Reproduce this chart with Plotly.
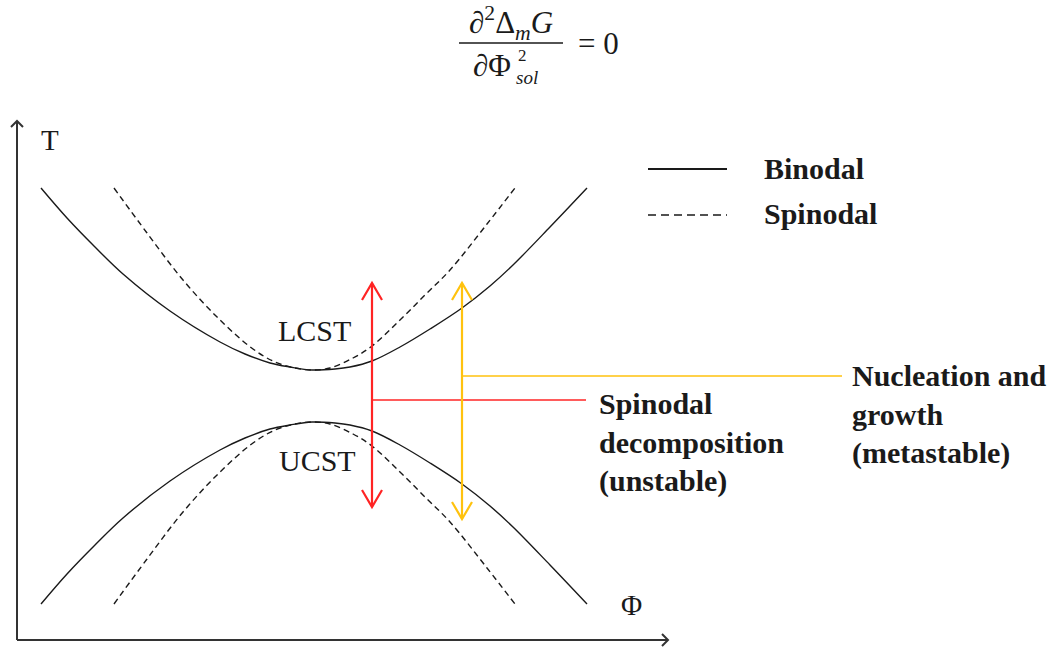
import plotly.graph_objects as go

W, H = 1053, 647

# ---- curve data (diagram coordinates) ----
binodal_x = [41, 67, 95, 123, 170, 220, 245, 270, 290, 312, 335, 350, 372, 400, 430, 462, 490, 513, 550, 587]
binodal_lcst_T = [188, 218, 247, 274, 311, 342, 354, 363, 367, 370, 369, 367, 361, 347, 329, 308, 286, 265, 227, 188]
binodal_ucst_T = [604, 574, 545, 518, 481, 450, 438, 429, 425, 422, 423, 425, 431, 445, 463, 484, 506, 527, 565, 604]

spinodal_x = [114, 147, 183, 220, 253, 275, 295, 312, 330, 353, 372, 400, 425, 450, 487, 515]
spinodal_lcst_T = [188, 233, 280, 320, 349, 362, 368, 370, 368, 358, 346, 320, 295, 270, 224, 188]
spinodal_ucst_T = [604, 559, 512, 472, 443, 430, 424, 422, 424, 434, 446, 472, 497, 522, 568, 604]

# axes of the diagram
axis_origin = (17, 640)
axis_y_top = 121
axis_x_end = 668

# arrows: x position, top, bottom, branch height, branch end
red_arrow = dict(x=372, top=283, bottom=507, branch_y=400, branch_end=586)
yellow_arrow = dict(x=462, top=283, bottom=519, branch_y=376, branch_end=842)

# legend samples
legend_x = [648, 727]
legend_binodal_y = 169
legend_spinodal_y = 215

labels_spinodal = ["Spinodal", "decomposition", "(unstable)"]
labels_nucleation = ["Nucleation and", "growth", "(metastable)"]

BLACK = "#1a1a1a"
RED = "#ff2424"
GOLD = "#ffc20e"
SERIF = "Liberation Serif"

fig = go.Figure()

def line(xs, ys, color, width, dash="solid", shape="linear"):
    fig.add_trace(go.Scatter(x=xs, y=ys, mode="lines", hoverinfo="skip",
                             line=dict(color=color, width=width, dash=dash, shape=shape, smoothing=1.0)))

# curves
line(binodal_x, binodal_lcst_T, BLACK, 1.4, shape="spline")
line(binodal_x, binodal_ucst_T, BLACK, 1.4, shape="spline")
line(spinodal_x, spinodal_lcst_T, BLACK, 1.4, dash="6px,4px", shape="spline")
line(spinodal_x, spinodal_ucst_T, BLACK, 1.4, dash="6px,4px", shape="spline")

# axes with arrowheads
ox, oy = axis_origin
line([ox, ox], [oy, axis_y_top], "#333333", 2)
line([ox - 6, ox, ox + 6], [axis_y_top + 6, axis_y_top, axis_y_top + 6], "#333333", 2)
line([ox, axis_x_end], [oy, oy], "#333333", 2)
line([axis_x_end - 6, axis_x_end, axis_x_end - 6], [oy - 6, oy, oy + 6], "#333333", 2)

# double arrows
for arr, col in ((red_arrow, RED), (yellow_arrow, GOLD)):
    x = arr["x"]
    line([x, x], [arr["top"], arr["bottom"]], col, 2.2)
    line([x - 10, x, x + 10], [arr["top"] + 17, arr["top"], arr["top"] + 17], col, 2.2)
    line([x - 10, x, x + 10], [arr["bottom"] - 17, arr["bottom"], arr["bottom"] - 17], col, 2.2)
    line([x, arr["branch_end"]], [arr["branch_y"], arr["branch_y"]], col, 1.4)

# legend samples
line(legend_x, [legend_binodal_y] * 2, BLACK, 1.8)
line(legend_x, [legend_spinodal_y] * 2, BLACK, 1.6, dash="8px,5px")

ann = []
def text(x, y, s, size=30, bold=False, xanchor="center", color=BLACK, family=SERIF):
    if bold:
        s = "<b>" + s + "</b>"
    ann.append(dict(x=x, y=y, xref="x", yref="y", text=s, showarrow=False,
                    xanchor=xanchor, yanchor="middle",
                    font=dict(family=family, size=size, color=color)))

text(50, 140, "T", 29)
text(631, 605, "Φ", 29)
text(314, 330, "LCST", 30)
text(317, 460, "UCST", 30)
text(762, 168, "Binodal", 30, bold=True, xanchor="left")
text(762, 213, "Spinodal", 30, bold=True, xanchor="left")
for i, s in enumerate(labels_spinodal):
    text(597, 403 + 39 * i, s, 30, bold=True, xanchor="left")
for i, s in enumerate(labels_nucleation):
    text(850, 375 + 39 * i, s, 30, bold=True, xanchor="left")

# formula
text(511, 23, "∂<sup>2</sup>Δ<sub><i>m</i></sub><i>G</i>", 31)
text(513, 65, "∂Φ", 31, xanchor="right")
text(516, 55, "2", 17, xanchor="left")
text(514, 77, "<i>sol</i>", 19, xanchor="left")
text(598, 43, "= 0", 31)
line([459, 563], [43, 43], BLACK, 1.5)

fig.update_layout(
    width=W, height=H,
    margin=dict(l=0, r=0, t=0, b=0),
    paper_bgcolor="white", plot_bgcolor="white",
    showlegend=False,
    xaxis=dict(range=[0, W], visible=False, fixedrange=True),
    yaxis=dict(range=[H, 0], visible=False, fixedrange=True),
    annotations=ann,
)

fig.write_html("out.html", config={"displayModeBar": False},
               post_script="document.body.style.margin='0';document.body.style.overflow='hidden';")
